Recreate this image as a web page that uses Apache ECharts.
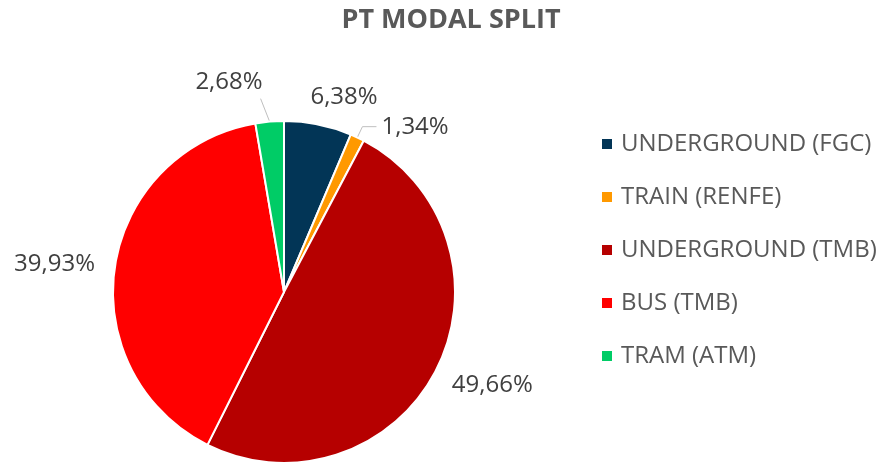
<!DOCTYPE html>
<html>
<head>
<meta charset="utf-8">
<script src="https://cdn.jsdelivr.net/npm/echarts@6/dist/echarts.min.js"></script>
<style>
  html, body { margin: 0; padding: 0; background: #fff; }
  #main { width: 881px; height: 464px; }
</style>
</head>
<body>
<div id="main"></div>
<script>
var modes = ['UNDERGROUND (FGC)', 'TRAIN (RENFE)', 'UNDERGROUND (TMB)', 'BUS (TMB)', 'TRAM (ATM)'];
var shares = [6.38, 1.34, 49.66, 39.93, 2.68];
var colors = ['#023556', '#ff9900', '#b60000', '#ff0000', '#00cc66'];
// which slices show a leader line in the original
var showLine = [false, true, false, false, true];
// nudges of the labels, to sit where Excel put them
var labelNudge = [[-29, -16], [0, 0], [-14, 10], [11, -1], [13, -27]];

var pieCenter = [284, 292];
var pieRadius = 171;

var chart = echarts.init(document.getElementById('main'));

var total = 0;
for (var k = 0; k < shares.length; k++) total += shares[k];

var data = [];
for (var i = 0; i < modes.length; i++) {
  data.push({
    name: modes[i],
    value: shares[i],
    itemStyle: { color: colors[i] },
    labelLine: { show: showLine[i] }
  });
}

// point on the rim at the middle of slice idx (clockwise from 12 o'clock)
function rimPoint(idx) {
  var before = 0;
  for (var j = 0; j < idx; j++) before += shares[j];
  var a = (before + shares[idx] / 2) / total * Math.PI * 2;
  return [pieCenter[0] + pieRadius * Math.sin(a), pieCenter[1] - pieRadius * Math.cos(a)];
}

var option = {
  backgroundColor: '#ffffff',
  title: {
    text: 'PT MODAL SPLIT',
    left: 446,
    top: 2,
    textAlign: 'center',
    textStyle: {
      fontFamily: 'Open Sans',
      fontWeight: 'bold',
      fontSize: 27,
      color: '#595959'
    }
  },
  legend: {
    orient: 'vertical',
    left: 600,
    top: 132,
    padding: 0,
    itemWidth: 12,
    itemHeight: 12,
    itemGap: 29,
    icon: 'rect',
    textStyle: {
      fontFamily: 'Open Sans',
      fontSize: 24,
      color: '#595959',
      lineHeight: 24,
      padding: [0, 0, 0, 3]
    },
    data: modes
  },
  series: [{
    type: 'pie',
    center: pieCenter,
    radius: [0, pieRadius],
    startAngle: 90,
    clockwise: true,
    avoidLabelOverlap: false,
    itemStyle: { borderColor: '#ffffff', borderWidth: 2 },
    label: {
      show: true,
      position: 'outside',
      fontFamily: 'Open Sans',
      fontSize: 24,
      color: '#404040',
      formatter: function (p) {
        return p.value.toFixed(2).replace('.', ',') + '%';
      }
    },
    labelLine: {
      length: 12,
      length2: 14,
      lineStyle: { color: '#bfbfbf', width: 1 }
    },
    labelLayout: function (params) {
      var n = labelNudge[params.dataIndex];
      var res = { dx: n[0], dy: n[1], hideOverlap: false };
      if (params.dataIndex === 4) {
        var r = params.labelRect;
        var p0 = rimPoint(4);
        var end = [r.x + r.width + n[0] - 2, r.y + r.height + n[1] + 4];
        res.labelLinePoints = [p0, end, end];
      }
      return res;
    },
    emphasis: { disabled: true },
    data: data
  }]
};

chart.setOption(option);
</script>
</body>
</html>
